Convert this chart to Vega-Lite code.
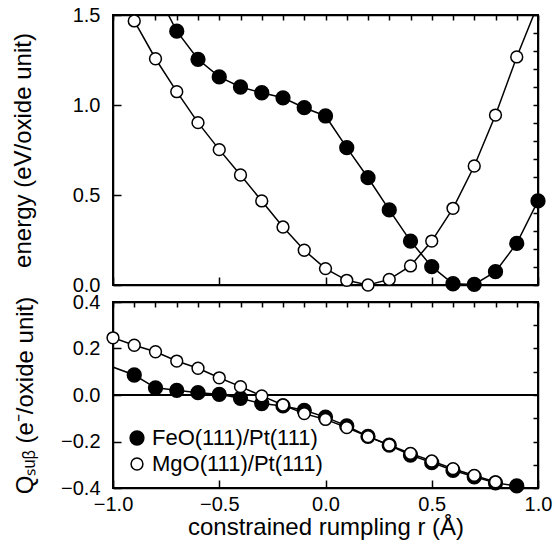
{
  "$schema": "https://vega.github.io/schema/vega-lite/v6.json",
  "background": "white",
  "padding": {"left": 10, "top": 4, "right": 2, "bottom": 2},
  "spacing": 17,
  "bounds": "flush",
  "config": {
    "font": "Liberation Sans",
    "view": {"stroke": "black", "strokeWidth": 1.5},
    "axis": {
      "domain": true, "ticks": true,
      "domainColor": "black", "domainWidth": 1.5,
      "tickColor": "black", "tickWidth": 1.5,
      "labelFont": "Liberation Sans", "labelFontSize": 20, "labelColor": "black",
      "titleFont": "Liberation Sans", "titleFontSize": 24, "titleFontWeight": "normal", "titleColor": "black",
      "grid": false, "labelOverlap": false, "labelFlush": false
    },
    "legend": {"labelFont": "Liberation Sans", "labelFontSize": 22, "labelColor": "black", "labelLimit": 400}
  },
  "datasets": {
    "energy": [
      {"r": -0.8, "energy": 1.64, "material": "FeO(111)/Pt(111)"},
      {"r": -0.7, "energy": 1.41, "material": "FeO(111)/Pt(111)"},
      {"r": -0.6, "energy": 1.254, "material": "FeO(111)/Pt(111)"},
      {"r": -0.5, "energy": 1.156, "material": "FeO(111)/Pt(111)"},
      {"r": -0.4, "energy": 1.10, "material": "FeO(111)/Pt(111)"},
      {"r": -0.3, "energy": 1.068, "material": "FeO(111)/Pt(111)"},
      {"r": -0.2, "energy": 1.04, "material": "FeO(111)/Pt(111)"},
      {"r": -0.1, "energy": 0.985, "material": "FeO(111)/Pt(111)"},
      {"r": 0.0, "energy": 0.939, "material": "FeO(111)/Pt(111)"},
      {"r": 0.1, "energy": 0.763, "material": "FeO(111)/Pt(111)"},
      {"r": 0.2, "energy": 0.596, "material": "FeO(111)/Pt(111)"},
      {"r": 0.3, "energy": 0.417, "material": "FeO(111)/Pt(111)"},
      {"r": 0.4, "energy": 0.244, "material": "FeO(111)/Pt(111)"},
      {"r": 0.5, "energy": 0.102, "material": "FeO(111)/Pt(111)"},
      {"r": 0.6, "energy": 0.007, "material": "FeO(111)/Pt(111)"},
      {"r": 0.7, "energy": 0.003, "material": "FeO(111)/Pt(111)"},
      {"r": 0.8, "energy": 0.074, "material": "FeO(111)/Pt(111)"},
      {"r": 0.9, "energy": 0.231, "material": "FeO(111)/Pt(111)"},
      {"r": 1.0, "energy": 0.467, "material": "FeO(111)/Pt(111)"},
      {"r": -1.0, "energy": 1.68, "material": "MgO(111)/Pt(111)"},
      {"r": -0.9, "energy": 1.467, "material": "MgO(111)/Pt(111)"},
      {"r": -0.8, "energy": 1.257, "material": "MgO(111)/Pt(111)"},
      {"r": -0.7, "energy": 1.074, "material": "MgO(111)/Pt(111)"},
      {"r": -0.6, "energy": 0.902, "material": "MgO(111)/Pt(111)"},
      {"r": -0.5, "energy": 0.752, "material": "MgO(111)/Pt(111)"},
      {"r": -0.4, "energy": 0.611, "material": "MgO(111)/Pt(111)"},
      {"r": -0.3, "energy": 0.467, "material": "MgO(111)/Pt(111)"},
      {"r": -0.2, "energy": 0.322, "material": "MgO(111)/Pt(111)"},
      {"r": -0.1, "energy": 0.193, "material": "MgO(111)/Pt(111)"},
      {"r": 0.0, "energy": 0.091, "material": "MgO(111)/Pt(111)"},
      {"r": 0.1, "energy": 0.026, "material": "MgO(111)/Pt(111)"},
      {"r": 0.2, "energy": 0.0, "material": "MgO(111)/Pt(111)"},
      {"r": 0.3, "energy": 0.031, "material": "MgO(111)/Pt(111)"},
      {"r": 0.4, "energy": 0.106, "material": "MgO(111)/Pt(111)"},
      {"r": 0.5, "energy": 0.244, "material": "MgO(111)/Pt(111)"},
      {"r": 0.6, "energy": 0.426, "material": "MgO(111)/Pt(111)"},
      {"r": 0.7, "energy": 0.661, "material": "MgO(111)/Pt(111)"},
      {"r": 0.8, "energy": 0.944, "material": "MgO(111)/Pt(111)"},
      {"r": 0.9, "energy": 1.267, "material": "MgO(111)/Pt(111)"},
      {"r": 1.0, "energy": 1.56, "material": "MgO(111)/Pt(111)"}
    ],
    "charge": [
      {"r": -1.1, "q": 0.154, "material": "FeO(111)/Pt(111)"},
      {"r": -0.9, "q": 0.086, "material": "FeO(111)/Pt(111)"},
      {"r": -0.8, "q": 0.031, "material": "FeO(111)/Pt(111)"},
      {"r": -0.7, "q": 0.020, "material": "FeO(111)/Pt(111)"},
      {"r": -0.6, "q": 0.010, "material": "FeO(111)/Pt(111)"},
      {"r": -0.5, "q": 0.003, "material": "FeO(111)/Pt(111)"},
      {"r": -0.4, "q": -0.014, "material": "FeO(111)/Pt(111)"},
      {"r": -0.3, "q": -0.037, "material": "FeO(111)/Pt(111)"},
      {"r": -0.2, "q": -0.047, "material": "FeO(111)/Pt(111)"},
      {"r": -0.1, "q": -0.066, "material": "FeO(111)/Pt(111)"},
      {"r": 0.0, "q": -0.095, "material": "FeO(111)/Pt(111)"},
      {"r": 0.1, "q": -0.133, "material": "FeO(111)/Pt(111)"},
      {"r": 0.2, "q": -0.178, "material": "FeO(111)/Pt(111)"},
      {"r": 0.3, "q": -0.216, "material": "FeO(111)/Pt(111)"},
      {"r": 0.4, "q": -0.258, "material": "FeO(111)/Pt(111)"},
      {"r": 0.5, "q": -0.291, "material": "FeO(111)/Pt(111)"},
      {"r": 0.6, "q": -0.324, "material": "FeO(111)/Pt(111)"},
      {"r": 0.7, "q": -0.352, "material": "FeO(111)/Pt(111)"},
      {"r": 0.8, "q": -0.378, "material": "FeO(111)/Pt(111)"},
      {"r": 0.9, "q": -0.391, "material": "FeO(111)/Pt(111)"},
      {"r": -1.0, "q": 0.246, "material": "MgO(111)/Pt(111)"},
      {"r": -0.9, "q": 0.214, "material": "MgO(111)/Pt(111)"},
      {"r": -0.8, "q": 0.186, "material": "MgO(111)/Pt(111)"},
      {"r": -0.7, "q": 0.146, "material": "MgO(111)/Pt(111)"},
      {"r": -0.6, "q": 0.115, "material": "MgO(111)/Pt(111)"},
      {"r": -0.5, "q": 0.074, "material": "MgO(111)/Pt(111)"},
      {"r": -0.4, "q": 0.036, "material": "MgO(111)/Pt(111)"},
      {"r": -0.3, "q": -0.004, "material": "MgO(111)/Pt(111)"},
      {"r": -0.2, "q": -0.043, "material": "MgO(111)/Pt(111)"},
      {"r": -0.1, "q": -0.080, "material": "MgO(111)/Pt(111)"},
      {"r": 0.0, "q": -0.105, "material": "MgO(111)/Pt(111)"},
      {"r": 0.1, "q": -0.140, "material": "MgO(111)/Pt(111)"},
      {"r": 0.2, "q": -0.179, "material": "MgO(111)/Pt(111)"},
      {"r": 0.3, "q": -0.215, "material": "MgO(111)/Pt(111)"},
      {"r": 0.4, "q": -0.251, "material": "MgO(111)/Pt(111)"},
      {"r": 0.5, "q": -0.284, "material": "MgO(111)/Pt(111)"},
      {"r": 0.6, "q": -0.317, "material": "MgO(111)/Pt(111)"},
      {"r": 0.7, "q": -0.346, "material": "MgO(111)/Pt(111)"},
      {"r": 0.8, "q": -0.374, "material": "MgO(111)/Pt(111)"}
    ]
  },
  "resolve": {"scale": {"fill": "independent", "size": "independent"}, "legend": {"fill": "independent", "size": "independent"}},
  "vconcat": [
    {
      "width": 425, "height": 270,
      "data": {"name": "energy"},
      "layer": [
        {
          "layer": [
            {
              "mark": {"type": "rect", "fillOpacity": 0, "stroke": "black", "strokeWidth": 1.5},
              "encoding": {
                "x": {"datum": -1, "type": "quantitative",
                      "axis": {"orient": "bottom", "labels": false, "title": null, "tickCount": 4, "tickSize": -8}},
                "x2": {"datum": 1},
                "y": {"datum": 0, "type": "quantitative",
                      "axis": {"orient": "left", "title": "energy (eV/oxide unit)", "labelPadding": 21, "titlePadding": 37,
                               "tickCount": 3, "format": ".1f", "tickSize": -8}},
                "y2": {"datum": 1.5}
              }
            },
            {
              "mark": {"type": "line", "clip": true, "color": "black", "strokeWidth": 1.5},
              "encoding": {
                "x": {"field": "r", "type": "quantitative", "scale": {"domain": [-1, 1], "nice": false},
                      "axis": {"orient": "bottom", "labels": false, "title": null, "tickCount": 4, "tickSize": -8}},
                "y": {"field": "energy", "type": "quantitative", "scale": {"domain": [0, 1.5], "nice": false, "zero": false},
                      "axis": {"orient": "left", "title": "energy (eV/oxide unit)", "labelPadding": 21, "titlePadding": 37,
                               "tickCount": 3, "format": ".1f", "tickSize": -8}},
                "detail": {"field": "material"}
              }
            },
            {
              "transform": [{"filter": "datum.energy <= 1.5"}],
              "mark": {"type": "circle", "stroke": "black", "strokeWidth": 1.5, "opacity": 1},
              "encoding": {
                "x": {"field": "r", "type": "quantitative",
                      "axis": {"orient": "bottom", "labels": false, "title": null, "tickCount": 4, "tickSize": -8}},
                "y": {"field": "energy", "type": "quantitative",
                      "axis": {"orient": "left", "title": "energy (eV/oxide unit)", "labelPadding": 21, "titlePadding": 37,
                               "tickCount": 3, "format": ".1f", "tickSize": -8}},
                "fill": {"field": "material", "type": "nominal", "scale": {"domain": ["FeO(111)/Pt(111)", "MgO(111)/Pt(111)"], "range": ["black", "white"]}, "legend": null},
                "size": {"field": "material", "type": "nominal", "scale": {"domain": ["FeO(111)/Pt(111)", "MgO(111)/Pt(111)"], "range": [190, 140]}, "legend": null}
              }
            }
          ]
        },
        {
          "transform": [{"filter": "datum.energy <= 1.5"}],
          "mark": {"type": "point", "opacity": 0},
          "encoding": {
            "x": {"field": "r", "type": "quantitative",
                  "axis": {"orient": "top", "labels": false, "title": null, "tickCount": 20, "tickSize": -5}},
            "y": {"field": "energy", "type": "quantitative",
                  "axis": {"orient": "right", "labels": false, "title": null, "tickCount": 15, "tickSize": -5}}
          }
        }
      ],
      "resolve": {"axis": {"x": "independent", "y": "independent"}}
    },
    {
      "width": 425, "height": 186,
      "data": {"name": "charge"},
      "layer": [
        {
          "layer": [
            {
              "mark": {"type": "rect", "fillOpacity": 0, "stroke": "black", "strokeWidth": 1.5},
              "encoding": {
                "x": {"datum": -1, "type": "quantitative",
                      "axis": {"orient": "bottom", "title": "constrained rumpling r (Å)", "labelPadding": 14, "titlePadding": 1,
                               "tickCount": 4, "format": ".1f", "tickSize": -8}},
                "x2": {"datum": 1},
                "y": {"datum": -0.4, "type": "quantitative",
                      "axis": {"orient": "left", "title": "Qₛᵤᵦ (e⁻/oxide unit)", "labelPadding": 21, "titlePadding": 23,
                               "tickCount": 4, "format": ".1f", "tickSize": -8}},
                "y2": {"datum": 0.4}
              }
            },
            {
              "mark": {"type": "line", "clip": true, "color": "black", "strokeWidth": 1.5},
              "encoding": {
                "x": {"field": "r", "type": "quantitative", "scale": {"domain": [-1, 1], "nice": false},
                      "axis": {"orient": "bottom", "title": "constrained rumpling r (Å)", "labelPadding": 14, "titlePadding": 1,
                               "tickCount": 4, "format": ".1f", "tickSize": -8}},
                "y": {"field": "q", "type": "quantitative", "scale": {"domain": [-0.4, 0.4], "nice": false, "zero": false},
                      "axis": {"orient": "left", "title": "Qₛᵤᵦ (e⁻/oxide unit)", "labelPadding": 21, "titlePadding": 23,
                               "tickCount": 4, "format": ".1f", "tickSize": -8}},
                "detail": {"field": "material"}
              }
            },
            {
              "mark": {"type": "rule", "color": "black", "strokeWidth": 1.5},
              "encoding": {"y": {"datum": 0, "type": "quantitative",
                      "axis": {"orient": "left", "title": "Qₛᵤᵦ (e⁻/oxide unit)", "labelPadding": 21, "titlePadding": 23,
                               "tickCount": 4, "format": ".1f", "tickSize": -8}}}
            },
            {
              "transform": [{"filter": "datum.r >= -1"}],
              "mark": {"type": "circle", "stroke": "black", "strokeWidth": 1.5, "opacity": 1},
              "encoding": {
                "x": {"field": "r", "type": "quantitative",
                      "axis": {"orient": "bottom", "title": "constrained rumpling r (Å)", "labelPadding": 14, "titlePadding": 1,
                               "tickCount": 4, "format": ".1f", "tickSize": -8}},
                "y": {"field": "q", "type": "quantitative",
                      "axis": {"orient": "left", "title": "Qₛᵤᵦ (e⁻/oxide unit)", "labelPadding": 21, "titlePadding": 23,
                               "tickCount": 4, "format": ".1f", "tickSize": -8}},
                "fill": {"field": "material", "type": "nominal", "scale": {"domain": ["FeO(111)/Pt(111)", "MgO(111)/Pt(111)"], "range": ["black", "white"]},
                         "legend": {"orient": "bottom-left", "offset": 13, "title": null, "labelOffset": 4, "rowPadding": 4,
                                    "encode": {"symbols": {"update": {"stroke": {"value": "black"}, "strokeWidth": {"value": 1.5}}}}}},
                "size": {"field": "material", "type": "nominal", "scale": {"domain": ["FeO(111)/Pt(111)", "MgO(111)/Pt(111)"], "range": [190, 140]},
                         "legend": {"orient": "bottom-left", "offset": 13, "title": null, "labelOffset": 4, "rowPadding": 4,
                                    "encode": {"symbols": {"update": {"stroke": {"value": "black"}, "strokeWidth": {"value": 1.5}}}}}}
              }
            }
          ]
        },
        {
          "transform": [{"filter": "datum.r >= -1"}],
          "mark": {"type": "point", "opacity": 0},
          "encoding": {
            "x": {"field": "r", "type": "quantitative",
                  "axis": {"orient": "top", "labels": false, "title": null, "tickCount": 20, "tickSize": -5}},
            "y": {"field": "q", "type": "quantitative",
                  "axis": {"orient": "right", "labels": false, "title": null, "tickCount": 8, "tickSize": -5}}
          }
        }
      ],
      "resolve": {"axis": {"x": "independent", "y": "independent"}}
    }
  ]
}
